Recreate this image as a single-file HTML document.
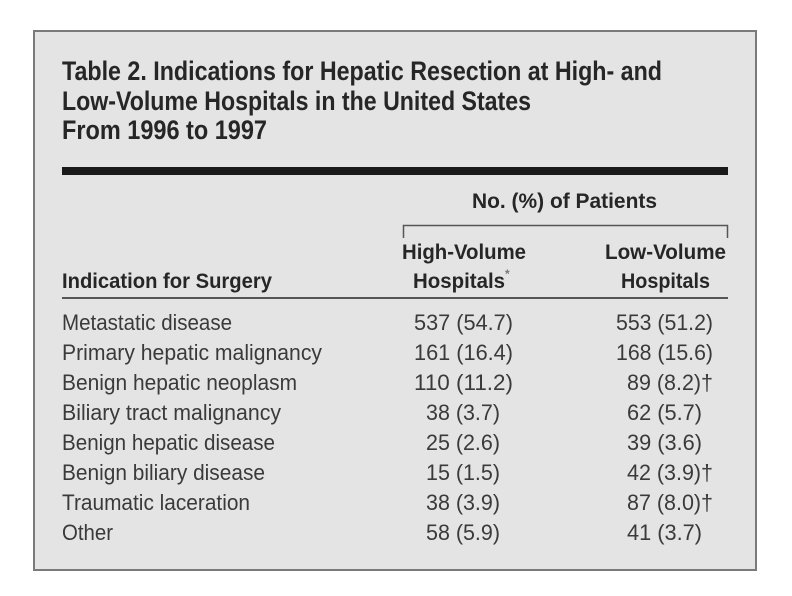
<!DOCTYPE html>
<html><head><meta charset="utf-8"><style>
html,body{margin:0;padding:0;background:#fff;width:792px;height:596px;overflow:hidden}
svg{display:block}
.t{font-family:"Liberation Sans Narrow","Liberation Sans",sans-serif;font-weight:bold;fill:#262626}
.r{font-family:"Liberation Sans Narrow","Liberation Sans",sans-serif;fill:#3a3a3a;font-size:22px}
</style></head><body>
<svg width="792" height="596" viewBox="0 0 792 596">
<rect x="34" y="31" width="722" height="539" fill="#e4e4e4" stroke="#7a7a7a" stroke-width="2"/>
<g class="t" font-size="27">
<text x="62" y="80" textLength="600" lengthAdjust="spacingAndGlyphs">Table 2. Indications for Hepatic Resection at High- and</text>
<text x="62" y="110" textLength="469" lengthAdjust="spacingAndGlyphs">Low-Volume Hospitals in the United States</text>
<text x="62" y="139" textLength="205" lengthAdjust="spacingAndGlyphs">From 1996 to 1997</text>
</g>
<rect x="62" y="167" width="666" height="8" fill="#1a1a1a"/>
<g class="t" font-size="21">
<text x="472" y="208" textLength="185" lengthAdjust="spacingAndGlyphs">No. (%) of Patients</text>
<text x="402" y="259" textLength="124" lengthAdjust="spacingAndGlyphs">High-Volume</text>
<text x="413" y="288" textLength="92" lengthAdjust="spacingAndGlyphs">Hospitals</text>
<text x="505" y="278" font-size="12" fill="#777">*</text>
<text x="605" y="259" textLength="121" lengthAdjust="spacingAndGlyphs">Low-Volume</text>
<text x="621" y="288" textLength="89" lengthAdjust="spacingAndGlyphs">Hospitals</text>
<text x="62" y="288" textLength="210" lengthAdjust="spacingAndGlyphs">Indication for Surgery</text>
</g>
<path d="M403.5 238V225.5H727.5V238" fill="none" stroke="#555" stroke-width="1.5"/>
<rect x="62" y="297" width="666" height="2" fill="#555"/>
<g class="r">
<text x="62" y="330" textLength="170" lengthAdjust="spacingAndGlyphs">Metastatic disease</text>
<text x="62" y="360" textLength="260" lengthAdjust="spacingAndGlyphs">Primary hepatic malignancy</text>
<text x="62" y="390" textLength="235" lengthAdjust="spacingAndGlyphs">Benign hepatic neoplasm</text>
<text x="62" y="420" textLength="219" lengthAdjust="spacingAndGlyphs">Biliary tract malignancy</text>
<text x="62" y="450" textLength="213" lengthAdjust="spacingAndGlyphs">Benign hepatic disease</text>
<text x="62" y="480" textLength="203" lengthAdjust="spacingAndGlyphs">Benign biliary disease</text>
<text x="62" y="510" textLength="188" lengthAdjust="spacingAndGlyphs">Traumatic laceration</text>
<text x="62" y="540" textLength="51" lengthAdjust="spacingAndGlyphs">Other</text>

<text x="414" y="330" textLength="99" lengthAdjust="spacingAndGlyphs">537 (54.7)</text>
<text x="414" y="360" textLength="99" lengthAdjust="spacingAndGlyphs">161 (16.4)</text>
<text x="414" y="390" textLength="99" lengthAdjust="spacingAndGlyphs">110 (11.2)</text>
<text x="426" y="420" textLength="74" lengthAdjust="spacingAndGlyphs">38 (3.7)</text>
<text x="426" y="450" textLength="74" lengthAdjust="spacingAndGlyphs">25 (2.6)</text>
<text x="426" y="480" textLength="74" lengthAdjust="spacingAndGlyphs">15 (1.5)</text>
<text x="426" y="510" textLength="74" lengthAdjust="spacingAndGlyphs">38 (3.9)</text>
<text x="426" y="540" textLength="74" lengthAdjust="spacingAndGlyphs">58 (5.9)</text>

<text x="616" y="330" textLength="97" lengthAdjust="spacingAndGlyphs">553 (51.2)</text>
<text x="616" y="360" textLength="97" lengthAdjust="spacingAndGlyphs">168 (15.6)</text>
<text x="627" y="390" textLength="86" lengthAdjust="spacingAndGlyphs">89 (8.2)†</text>
<text x="627" y="420" textLength="75" lengthAdjust="spacingAndGlyphs">62 (5.7)</text>
<text x="627" y="450" textLength="75" lengthAdjust="spacingAndGlyphs">39 (3.6)</text>
<text x="627" y="480" textLength="86" lengthAdjust="spacingAndGlyphs">42 (3.9)†</text>
<text x="627" y="510" textLength="86" lengthAdjust="spacingAndGlyphs">87 (8.0)†</text>
<text x="627" y="540" textLength="75" lengthAdjust="spacingAndGlyphs">41 (3.7)</text>
</g>
</svg>
</body></html>
